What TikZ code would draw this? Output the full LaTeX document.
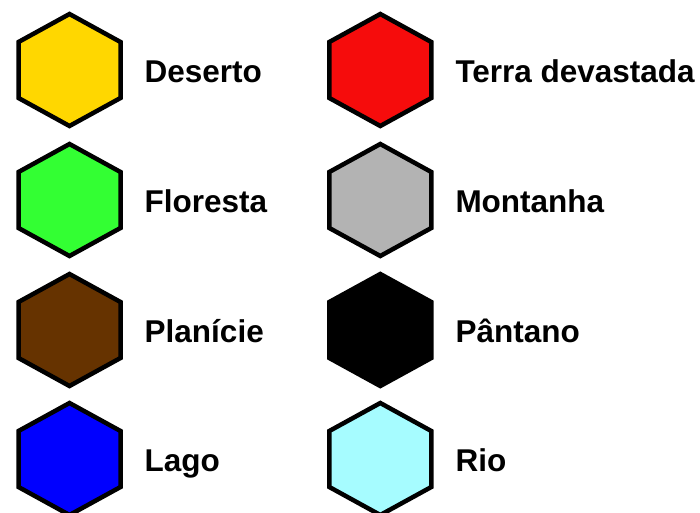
\documentclass[tikz,border=0pt]{standalone}
\usepackage{fontspec}
\setmainfont{Liberation Sans}
\usetikzlibrary{calc}
\definecolor{cdeserto}{RGB}{255,215,0}
\definecolor{cterra}{RGB}{246,12,12}
\definecolor{cfloresta}{RGB}{51,255,51}
\definecolor{cmontanha}{RGB}{179,179,179}
\definecolor{cplanicie}{RGB}{102,51,0}
\definecolor{cpantano}{RGB}{0,0,0}
\definecolor{clago}{RGB}{0,0,255}
\definecolor{crio}{RGB}{166,252,255}
\tikzset{
  hexbox/.style={draw=black, line width=4.5pt, line join=miter},
  hexlabel/.style={anchor=base west, inner sep=0pt, font=\bfseries\fontsize{31.5}{36}\selectfont, text=black}
}
\begin{document}
\begin{tikzpicture}[x=1pt,y=-1pt]
\useasboundingbox (0,0) rectangle (700,512);
\foreach \cx/\cy/\col/\txt/\nm in {
  69.5/70/cdeserto/Deserto/deserto,
  69.5/200/cfloresta/Floresta/floresta,
  69.5/330/cplanicie/Planície/planicie,
  69.5/459/clago/Lago/lago,
  380.3/70/cterra/Terra devastada/terra,
  380.3/200/cmontanha/Montanha/montanha,
  380.3/330/cpantano/Pântano/pantano,
  380.3/459/crio/Rio/rio}{
  \coordinate (h\nm) at (\cx,\cy);
  \filldraw[hexbox, fill=\col] (h\nm) ++(0,-56) -- ++(51,28) -- ++(0,56) -- ++(-51,28) -- ++(-51,-28) -- ++(0,-56) -- cycle;
  \node[hexlabel] (l\nm) at ($(h\nm)+(75,12.7)$) {\txt};
}
\end{tikzpicture}
\end{document}
